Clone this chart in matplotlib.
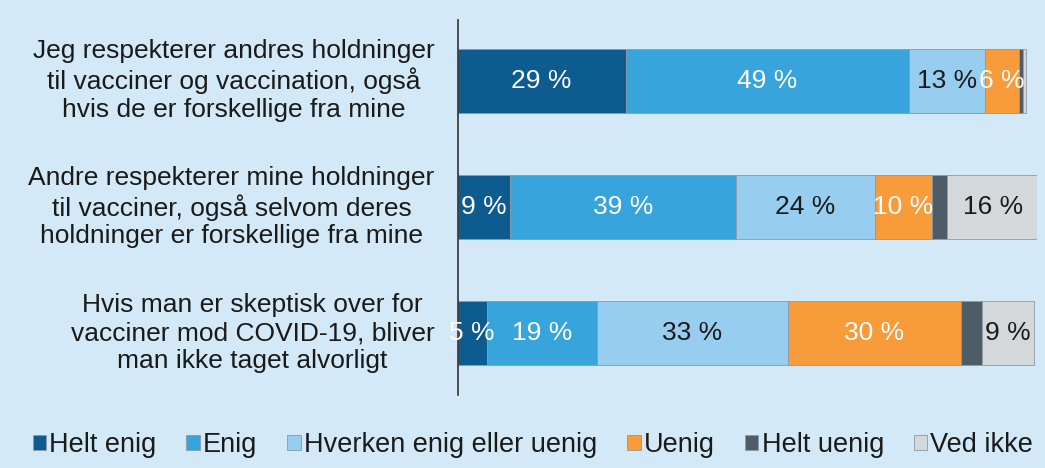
import matplotlib
matplotlib.use("Agg")
import matplotlib.pyplot as plt
from matplotlib import font_manager
import numpy as np

categories = [
    "Jeg respekterer andres holdninger\ntil vacciner og vaccination, også\nhvis de er forskellige fra mine",
    "Andre respekterer mine holdninger\ntil vacciner, også selvom deres\nholdninger er forskellige fra mine",
    "Hvis man er skeptisk over for\nvacciner mod COVID-19, bliver\nman ikke taget alvorligt",
]
series_names = ["Helt enig", "Enig", "Hverken enig eller uenig", "Uenig", "Helt uenig", "Ved ikke"]
helt_enig = [29, 9, 5]
enig = [49, 39, 19]
hverken = [13, 24, 33]
uenig = [6, 10, 30]
helt_uenig = [0.6, 2.5, 3.5]
ved_ikke = [0.5, 16, 9]
show_label = [True, True, True, True, False, True]
min_label = 1.0

colors = ["#0d5b8f", "#38a4dc", "#97cdee", "#f89b3b", "#4d5c66", "#d5d8db"]
text_colors = ["white", "white", "#1a1a1a", "white", "white", "#1a1a1a"]
bg = "#d3e9f7"

available = {f.name for f in font_manager.fontManager.ttflist}
main_font = "Liberation Sans" if "Liberation Sans" in available else "DejaVu Sans"
plt.rcParams["font.family"] = [main_font, "DejaVu Sans"]

fig = plt.figure(figsize=(10.45, 4.68), dpi=100, facecolor=bg)
ax = fig.add_axes([0.438, 0.156, 0.554, 0.801], facecolor=bg)

data = [helt_enig, enig, hverken, uenig, helt_uenig, ved_ikke]
y = np.arange(len(categories))
left = np.zeros(len(categories))
handles = []
for i, (name, vals) in enumerate(zip(series_names, data)):
    vals = np.array(vals, dtype=float)
    bars = ax.barh(y, vals, left=left, height=0.51, color=colors[i],
                   edgecolor="#8c9aa5", linewidth=0.6, label=name)
    handles.append(bars)
    if show_label[i]:
        for j, v in enumerate(vals):
            if v >= min_label:
                ax.text(left[j] + v / 2, y[j], f"{v:.0f} %", ha="center", va="center",
                        fontsize=19, color=text_colors[i])
    left += vals

ax.set_xlim(0, 100)
ax.set_ylim(2.49, -0.48)
ax.set_xticks([])
ax.set_yticks([])
for s in ["top", "right", "bottom"]:
    ax.spines[s].set_visible(False)
ax.spines["left"].set_color("#333333")
ax.spines["left"].set_linewidth(1.2)

for j, cat in enumerate(categories):
    ax.text(-0.04, y[j], cat, transform=ax.get_yaxis_transform(), ha="right", va="center",
            multialignment="center", fontsize=19, color="#1a1a1a", linespacing=1.2)

leg = fig.legend(handles, series_names, loc="center", bbox_to_anchor=(0.51, 0.049), ncol=6,
                 frameon=False, handlelength=0.5, handleheight=0.5, handletextpad=0.12,
                 columnspacing=1.1, borderpad=0.2, prop={"size": 19.5})
for t in leg.get_texts():
    t.set_color("#1a1a1a")

fig.savefig("out.png", dpi=100, facecolor=bg)
